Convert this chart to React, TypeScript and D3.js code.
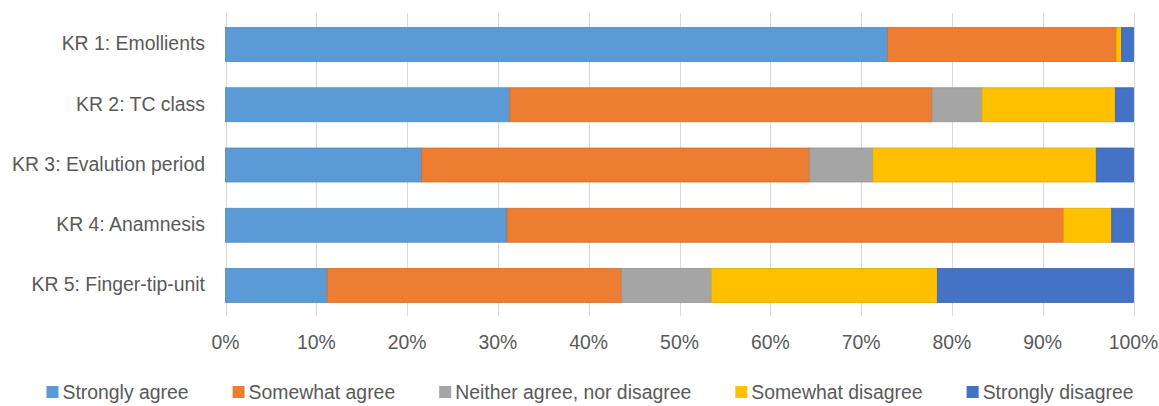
import React, { useEffect, useRef } from "react";
import * as d3 from "d3";

const categories = [
  "KR 1: Emollients",
  "KR 2: TC class",
  "KR 3: Evalution period",
  "KR 4: Anamnesis",
  "KR 5: Finger-tip-unit",
];
const seriesNames = [
  "Strongly agree",
  "Somewhat agree",
  "Neither agree, nor disagree",
  "Somewhat disagree",
  "Strongly disagree",
];
const stronglyAgree = [72.9, 31.3, 21.6, 31.0, 11.2];
const somewhatAgree = [25.2, 46.5, 42.7, 61.3, 32.4];
const neither = [0, 5.5, 7.0, 0, 9.9];
const somewhatDisagree = [0.6, 14.7, 24.6, 5.3, 24.9];
const stronglyDisagree = [1.3, 2.0, 4.1, 2.4, 21.6];
const tickValues = [0, 0.1, 0.2, 0.3, 0.4, 0.5, 0.6, 0.7, 0.8, 0.9, 1];
const colors = ["#5B9BD5", "#ED7D31", "#A5A5A5", "#FFC000", "#4472C4"];

const W = 1159;
const H = 406;
const FONT = "'Liberation Sans', Arial, sans-serif";
const FS = 19.4;
const TEXT = "#595959";

export default function App() {
  const ref = useRef<SVGSVGElement>(null);

  useEffect(() => {
    const svg = d3.select(ref.current);
    svg.selectAll("*").remove();

    const seriesVals = [stronglyAgree, somewhatAgree, neither, somewhatDisagree, stronglyDisagree];
    const rows = categories.map((c, i) => {
      const r: any = { cat: c };
      seriesNames.forEach((s, j) => (r[s] = seriesVals[j][i] / 100));
      return r;
    });
    const stacked = d3.stack<any>().keys(seriesNames)(rows);

    const x = d3.scaleLinear().domain([0, 1]).range([225.5, 1133.5]);
    const y = d3
      .scaleBand<string>()
      .domain(categories)
      .range([14.4, 315.6])
      .paddingInner(0.436)
      .paddingOuter(0.218);

    // gridlines
    svg
      .append("g")
      .selectAll("line")
      .data(tickValues)
      .join("line")
      .attr("x1", (d) => Math.round(x(d)) + 0.5)
      .attr("x2", (d) => Math.round(x(d)) + 0.5)
      .attr("y1", 13)
      .attr("y2", 316)
      .attr("stroke", "#D9D9D9")
      .attr("stroke-width", 1);

    // bars
    svg
      .append("g")
      .selectAll("g")
      .data(stacked)
      .join("g")
      .attr("fill", (_, i) => colors[i])
      .attr("stroke", (_, i) => d3.color(colors[i])!.darker(0.35).formatHex())
      .attr("stroke-width", 0.8)
      .selectAll("rect")
      .data((s) => s.filter((d) => d[1] - d[0] > 0))
      .join("rect")
      .attr("x", (d) => x(d[0]))
      .attr("width", (d) => x(d[1]) - x(d[0]))
      .attr("y", (d) => y(d.data.cat)!)
      .attr("height", y.bandwidth());

    // category labels
    svg
      .append("g")
      .selectAll("text")
      .data(categories)
      .join("text")
      .attr("x", 205)
      .attr("y", (d) => y(d)! + y.bandwidth() / 2)
      .attr("dy", "0.3em")
      .attr("text-anchor", "end")
      .attr("font-family", FONT)
      .attr("font-size", FS)
      .attr("fill", TEXT)
      .text((d) => d);

    // x tick labels
    svg
      .append("g")
      .selectAll("text")
      .data(tickValues)
      .join("text")
      .attr("x", (d) => x(d))
      .attr("y", 349)
      .attr("text-anchor", "middle")
      .attr("font-family", FONT)
      .attr("font-size", FS)
      .attr("fill", TEXT)
      .text((d) => d3.format(".0%")(d));

    // legend
    const lg = svg.append("g");
    const items = seriesNames.map((name, i) => {
      const g = lg.append("g");
      g.append("rect")
        .attr("x", 0)
        .attr("y", 386)
        .attr("width", 12)
        .attr("height", 12)
        .attr("fill", colors[i]);
      const t = g
        .append("text")
        .attr("x", 16)
        .attr("y", 399)
        .attr("font-family", FONT)
        .attr("font-size", FS)
        .attr("fill", TEXT)
        .text(name);
      const w = 16 + (t.node() as SVGTextElement).getComputedTextLength();
      return { g, w };
    });
    const gap = 44;
    const total = d3.sum(items, (d) => d.w) + gap * (items.length - 1);
    let cx = 590 - total / 2;
    items.forEach((it) => {
      it.g.attr("transform", `translate(${cx},0)`);
      cx += it.w + gap;
    });
  }, []);

  return (
    <svg
      ref={ref}
      width={W}
      height={H}
      style={{ position: "absolute", left: 0, top: 0, background: "#fff" }}
    />
  );
}
